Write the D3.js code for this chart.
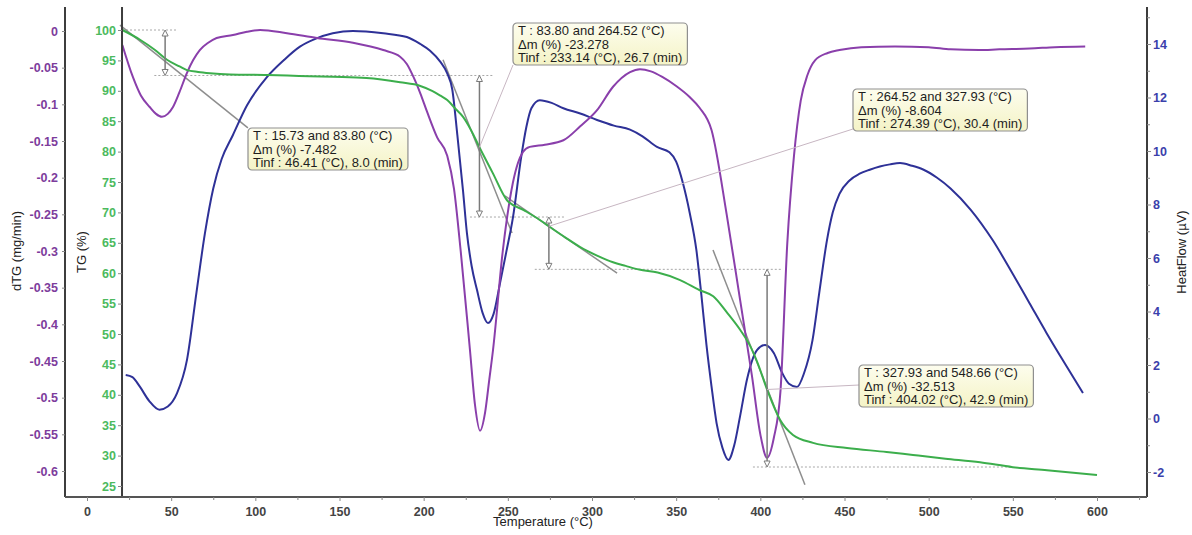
<!DOCTYPE html>
<html>
<head>
<meta charset="utf-8">
<script src="https://cdn.jsdelivr.net/npm/d3@7"></script>
<style>
    body { margin: 0; background: #fff; }
    text { font-family: "Liberation Sans", Arial, sans-serif; }
</style>
</head>
<body>
<svg id="mainSvg" width="1192" height="535"></svg>
<script>
// TG curve (%)
let tgT = [21, 31.5, 40, 47.5, 55, 59.4, 66, 73, 85, 107, 126, 146, 166, 186, 198, 205, 210, 214, 219, 223.4, 228, 233.5, 241, 249.5, 260, 269, 275, 284, 293, 303, 312.5, 320, 328, 339, 352, 364, 372, 380, 388, 394, 398, 404.5, 411.7, 419.4, 431.3, 451.5, 475, 490.7, 510, 530.5, 550, 570.3, 600];
let tgV = [100, 98.4, 96.8, 95.1, 94.0, 93.4, 93.1, 92.9, 92.7, 92.6, 92.45, 92.3, 92.1, 91.4, 90.8, 90.0, 89.2, 88.5, 87.0, 85.7, 83.6, 80.5, 76.5, 72.0, 70.3, 68.75, 67.6, 65.9, 64.3, 62.9, 61.8, 61.2, 60.6, 60.1, 58.9, 57.2, 56.2, 53.6, 50.7, 48.0, 45.5, 40.5, 35.9, 33.4, 32.1, 31.25, 30.6, 30.1, 29.5, 28.9, 28.1, 27.6, 26.8];

// dTG curve (mg/min)
let dtgT = [21, 27.3, 32, 37.4, 41, 44.5, 48, 51, 55, 59.4, 63, 67, 72, 77, 86.7, 95, 102.8, 118.8, 136.6, 158, 176, 186, 190, 194, 198, 202, 208, 214, 218, 222, 227.5, 230.5, 233.5, 236.5, 239, 241.2, 247, 253, 256, 259, 263, 272, 283, 293, 303, 312.5, 322.6, 328.5, 335, 342, 350, 358, 364, 371, 380, 388, 395, 400, 404, 408, 412, 416, 420, 424, 428, 432.5, 440, 447, 460, 480, 500, 513, 530, 542, 560, 575, 593];
let dtgV = [-0.019, -0.063, -0.088, -0.104, -0.113, -0.117, -0.113, -0.104, -0.083, -0.057, -0.04, -0.026, -0.016, -0.0095, -0.0055, -0.001, 0.0014, -0.003, -0.0095, -0.016, -0.026, -0.035, -0.045, -0.063, -0.085, -0.11, -0.145, -0.17, -0.215, -0.3, -0.435, -0.51, -0.545, -0.52, -0.475, -0.435, -0.3, -0.207, -0.18, -0.165, -0.158, -0.155, -0.149, -0.13, -0.108, -0.076, -0.056, -0.052, -0.055, -0.063, -0.075, -0.09, -0.105, -0.135, -0.25, -0.367, -0.47, -0.55, -0.582, -0.555, -0.49, -0.29, -0.17, -0.095, -0.06, -0.04, -0.03, -0.026, -0.022, -0.021, -0.022, -0.025, -0.026, -0.025, -0.024, -0.022, -0.021];

// HeatFlow curve (µV)
let hfT = [23, 27, 31.5, 37, 43, 48, 53.5, 59.4, 65, 70, 75, 80, 86.7, 95, 107, 117, 126.5, 136, 146, 158, 176, 190, 198, 203.8, 209.7, 214, 217, 220, 223.4, 225.7, 228.5, 231.7, 235, 238.2, 241.5, 245.4, 249, 253, 258, 261, 264, 269, 276, 283, 293, 303, 313, 322.6, 330, 338.6, 346, 350, 354, 358, 362, 365, 368, 371, 374, 377.5, 381, 384.5, 388, 392, 398, 402.8, 408, 413, 417, 421.8, 426, 431, 435, 439.6, 443, 447, 453, 459, 465, 471, 477, 483, 490, 497, 505, 513, 525, 538, 550, 560, 570, 580, 591.7];
let hfV = [1.63, 1.55, 1.18, 0.65, 0.33, 0.45, 0.95, 2.19, 4.7, 6.9, 8.6, 9.7, 10.6, 11.7, 12.77, 13.4, 13.9, 14.2, 14.4, 14.49, 14.4, 14.26, 14.0, 13.75, 13.35, 12.9, 12.3, 10.6, 8.5, 6.93, 5.7, 4.8, 3.95, 3.57, 3.9, 5.07, 6.2, 7.5, 9.8, 10.9, 11.6, 11.9, 11.8, 11.6, 11.4, 11.16, 10.95, 10.8, 10.55, 10.15, 9.95, 9.6, 8.8, 7.7, 6.3, 4.6, 2.75, 1.2, -0.17, -1.1, -1.55, -1.0, 0.1, 1.44, 2.56, 2.75, 2.45, 1.7, 1.3, 1.18, 1.7, 2.93, 4.7, 6.67, 7.7, 8.4, 8.9, 9.15, 9.3, 9.42, 9.5, 9.55, 9.45, 9.3, 9.0, 8.6, 7.8, 6.67, 5.4, 4.3, 3.2, 2.15, 0.95];

// ticks
let xTicks = d3.range(0, 601, 50);
let xMinor = d3.range(25, 626, 50);
let dtgTicks = d3.range(0, 13).map((i) => -i * 0.05);
let tgTicks = d3.range(25, 101, 5);
let hfTicks = d3.range(-2, 15, 2);
let hfMinor = d3.range(-1, 16, 2);

// mass loss steps
let stepT1 = [15.73, 83.8, 264.52, 327.93];
let stepT2 = [83.8, 264.52, 327.93, 548.66];
let stepDm = [-7.482, -23.278, -8.604, -32.513];
let stepTinf = [46.41, 233.14, 274.39, 404.02];
let stepMin = [8.0, 26.7, 30.4, 42.9];

// dotted level guides [T from, T to, TG level]
let guideFrom = [20.8, 40, 227.5, 266, 395.6];
let guideTo = [54, 241, 284, 413, 550];
let guideLevel = [100, 92.518, 69.24, 60.636, 28.123];

// tangent segments [T, TG] -> [T, TG]
let tangents = [
    [[19.6, 100.8], [95.6, 83.9]],
    [[211.5, 95.1], [252.5, 66.6]],
    [[248.3, 72.7], [314.9, 60.0]],
    [[371.9, 63.8], [426.5, 25.2]],
];

// label box placement (pixels) and leader target on the box
let boxLayout = [
    { x: 248, y: 128, lx: 248, ly: 128 },
    { x: 513, y: 23, lx: 513, ly: 65 },
    { x: 853, y: 89, lx: 853, ly: 129 },
    { x: 859, y: 365, lx: 859, ly: 385 },
];

let purple = "#8a3fab";
let green = "#3cae4c";
let blue = "#2e3197";

let svg = d3.select("#mainSvg");

let x = d3.scaleLinear().domain([0, 600]).range([87, 1097]);
let yD = d3.scaleLinear().domain([0, -0.6]).range([31, 471]);
let yTG = d3.scaleLinear().domain([100, 25]).range([30, 486]);
let yHF = d3.scaleLinear().domain([14, -2]).range([44, 472]);

let plotTop = 7,
    plotBottom = 497,
    plotLeft = 65,
    plotRight = 1147;

// dotted guides
svg.append("g")
    .selectAll("line")
    .data(guideLevel)
    .join("line")
    .attr("x1", (d, i) => x(guideFrom[i]))
    .attr("x2", (d, i) => x(guideTo[i]))
    .attr("y1", (d) => yTG(d))
    .attr("y2", (d) => yTG(d))
    .attr("stroke", "#a8a8a8")
    .attr("stroke-width", 1)
    .attr("stroke-dasharray", "2,2");

// tangents
svg.append("g")
    .selectAll("line")
    .data(tangents)
    .join("line")
    .attr("x1", (d) => x(d[0][0]))
    .attr("y1", (d) => yTG(d[0][1]))
    .attr("x2", (d) => x(d[1][0]))
    .attr("y2", (d) => yTG(d[1][1]))
    .attr("stroke", "#8e8e8e")
    .attr("stroke-width", 1.5);

// curves
let drawCurve = function (ts, vs, y, color) {
    let line = d3
        .line()
        .x((d) => x(d[0]))
        .y((d) => y(d[1]))
        .curve(d3.curveMonotoneX);
    svg.append("path")
        .datum(ts.map((t, i) => [t, vs[i]]))
        .attr("d", line)
        .attr("fill", "none")
        .attr("stroke", color)
        .attr("stroke-width", 2)
        .attr("stroke-linejoin", "round");
};

drawCurve(hfT, hfV, yHF, blue);
drawCurve(dtgT, dtgV, yD, purple);
drawCurve(tgT, tgV, yTG, green);

// TG value on curve, for leader anchors
let tgAt = function (t) {
    let i = d3.bisectLeft(tgT, t);
    if (i <= 0) return tgV[0];
    let k = (t - tgT[i - 1]) / (tgT[i] - tgT[i - 1]);
    return tgV[i - 1] + k * (tgV[i] - tgV[i - 1]);
};

// mass levels
let levels = [100];
stepDm.forEach((d) => levels.push(levels[levels.length - 1] + d));

// double arrows
let arrows = svg.append("g");
stepTinf.forEach((t, i) => {
    let ax = x(t);
    let y1 = yTG(levels[i]);
    let y2 = yTG(levels[i + 1]);
    arrows.append("line")
        .attr("x1", ax).attr("x2", ax)
        .attr("y1", y1 + 5).attr("y2", y2 - 5)
        .attr("stroke", "#7a7a7a")
        .attr("stroke-width", 1.5);
    arrows.append("path")
        .attr("d", `M${ax},${y1} L${ax - 3},${y1 + 6} L${ax + 3},${y1 + 6} Z`)
        .attr("fill", "#fff")
        .attr("stroke", "#7a7a7a");
    arrows.append("path")
        .attr("d", `M${ax},${y2} L${ax - 3},${y2 - 6} L${ax + 3},${y2 - 6} Z`)
        .attr("fill", "#fff")
        .attr("stroke", "#7a7a7a");
});

// leaders
svg.append("g")
    .selectAll("line")
    .data(stepTinf.slice(1))
    .join("line")
    .attr("x1", (d) => x(d))
    .attr("y1", (d) => yTG(tgAt(d)))
    .attr("x2", (d, i) => boxLayout[i + 1].lx)
    .attr("y2", (d, i) => boxLayout[i + 1].ly)
    .attr("stroke", "#c7b6c2")
    .attr("stroke-width", 1);

// label boxes
let defs = svg.append("defs");
let grad = defs.append("linearGradient")
    .attr("id", "boxFill")
    .attr("x1", 0).attr("y1", 0)
    .attr("x2", 0).attr("y2", 1);
grad.append("stop").attr("offset", "0%").attr("stop-color", "#fdfdee");
grad.append("stop").attr("offset", "100%").attr("stop-color", "#f4f3c6");

stepT1.forEach((t1, i) => {
    let lines = [
        `T : ${t1.toFixed(2)} and ${stepT2[i].toFixed(2)} (°C)`,
        `\u0394m (%) ${stepDm[i].toFixed(3)}`,
        `Tinf : ${stepTinf[i].toFixed(2)} (°C), ${stepMin[i].toFixed(1)} (min)`,
    ];
    let b = boxLayout[i];
    let g = svg.append("g").attr("transform", `translate(${b.x},${b.y})`);
    let rect = g.append("rect")
        .attr("rx", 4)
        .attr("fill", "url(#boxFill)")
        .attr("stroke", "#8f8f8f")
        .attr("stroke-width", 1.2);
    let w = 0;
    lines.forEach((s, j) => {
        let tx = g.append("text")
            .attr("x", 5)
            .attr("y", 12 + j * 13.5)
            .attr("font-size", 13)
            .attr("fill", "#1e1e1e")
            .text(s);
        w = Math.max(w, tx.node().getComputedTextLength());
    });
    rect.attr("width", w + 10).attr("height", 42);
});

// frame lines
let frame = svg.append("g").attr("stroke", "#3d3d3d").attr("stroke-width", 2);
frame.append("line").attr("x1", plotLeft).attr("x2", plotLeft).attr("y1", plotTop).attr("y2", plotBottom);
frame.append("line").attr("x1", x(20.8)).attr("x2", x(20.8)).attr("y1", plotTop).attr("y2", plotBottom);
frame.append("line").attr("x1", plotRight).attr("x2", plotRight).attr("y1", plotTop).attr("y2", plotBottom);
frame.append("line").attr("x1", plotLeft).attr("x2", plotRight).attr("y1", plotBottom).attr("y2", plotBottom)
    .attr("stroke", "#555");

let styleAxis = function (g, color) {
    g.select(".domain").remove();
    g.selectAll(".tick line").attr("stroke", "#888");
    g.selectAll(".tick text")
        .attr("fill", color)
        .attr("font-size", 12.5)
        .attr("font-weight", "bold")
        .attr("font-family", "Liberation Sans, Arial, sans-serif");
};

// x axis
svg.append("g")
    .attr("transform", `translate(0,${plotBottom})`)
    .call(d3.axisBottom(x).tickValues(xTicks).tickSize(4).tickPadding(6).tickFormat((d) => d))
    .call((g) => styleAxis(g, "#444"));
svg.append("g")
    .attr("transform", `translate(0,${plotBottom})`)
    .call(d3.axisBottom(x).tickValues(xMinor).tickSize(3).tickFormat(""))
    .call((g) => styleAxis(g, "#444"));

// dTG axis
svg.append("g")
    .attr("transform", `translate(${plotLeft},0)`)
    .call(d3.axisLeft(yD).tickValues(dtgTicks).tickSize(3).tickPadding(4)
        .tickFormat((d) => String(+d.toFixed(2))))
    .call((g) => styleAxis(g, "#7d3c9c"));

// TG axis
svg.append("g")
    .attr("transform", `translate(${x(20.8)},0)`)
    .call(d3.axisLeft(yTG).tickValues(tgTicks).tickSize(4).tickPadding(2).tickFormat((d) => d))
    .call((g) => styleAxis(g, "#4cba5e"));

// HeatFlow axis
svg.append("g")
    .attr("transform", `translate(${plotRight},0)`)
    .call(d3.axisRight(yHF).tickValues(hfTicks).tickSize(4).tickPadding(2)
        .tickFormat((d) => String(d)))
    .call((g) => styleAxis(g, "#3b3fab"));
svg.append("g")
    .attr("transform", `translate(${plotRight},0)`)
    .call(d3.axisRight(yHF).tickValues(hfMinor).tickSize(3).tickFormat(""))
    .call((g) => styleAxis(g, "#3b3fab"));

// axis titles
let title = function (tx, ty, rot, s) {
    svg.append("text")
        .attr("transform", `translate(${tx},${ty}) rotate(${rot})`)
        .attr("text-anchor", "middle")
        .attr("font-size", 13)
        .attr("fill", "#222")
        .text(s);
};
title(21, 251, -90, "dTG (mg/min)");
title(86, 252, -90, "TG (%)");
title(1186, 252, -90, "HeatFlow (\u00b5V)");
title(543, 526, 0, "Temperature (°C)");
</script>
</body>
</html>
